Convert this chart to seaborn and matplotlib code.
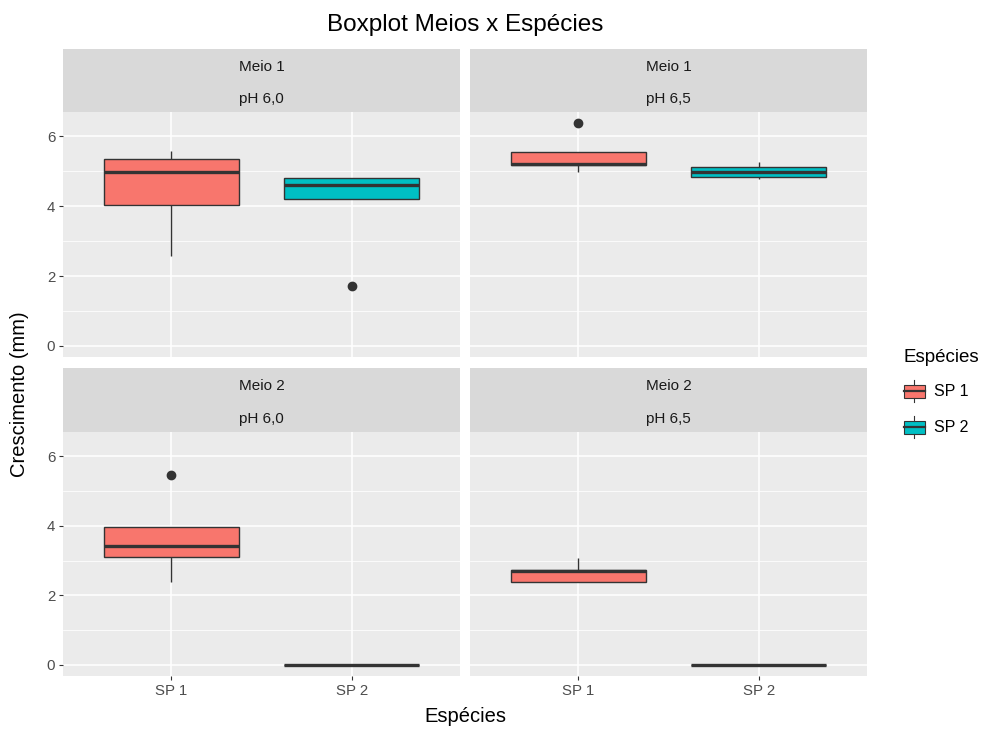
import numpy as np
import pandas as pd
import matplotlib
matplotlib.use("Agg")
import matplotlib.pyplot as plt
import seaborn as sns
from matplotlib.legend_handler import HandlerBase
from matplotlib.patches import Rectangle, Patch
from matplotlib.lines import Line2D
from matplotlib.ticker import FixedLocator

species = ["SP 1", "SP 2"]
meios = ["Meio 1", "Meio 1", "Meio 2", "Meio 2"]
phs = ["pH 6,0", "pH 6,5", "pH 6,0", "pH 6,5"]

m1_ph60_sp1 = [2.57, 4.03, 4.97, 5.34, 5.57]
m1_ph60_sp2 = [1.71, 4.20, 4.60, 4.80, 4.80]
m1_ph65_sp1 = [4.97, 5.17, 5.20, 5.54, 6.38]
m1_ph65_sp2 = [4.77, 4.83, 4.97, 5.11, 5.26]
m2_ph60_sp1 = [2.39, 3.10, 3.42, 3.97, 5.46]
m2_ph60_sp2 = [0.0, 0.0, 0.0, 0.0, 0.0]
m2_ph65_sp1 = [2.39, 2.39, 2.70, 2.73, 3.07]
m2_ph65_sp2 = [0.0, 0.0, 0.0, 0.0, 0.0]

groups = [
    (m1_ph60_sp1, m1_ph60_sp2),
    (m1_ph65_sp1, m1_ph65_sp2),
    (m2_ph60_sp1, m2_ph60_sp2),
    (m2_ph65_sp1, m2_ph65_sp2),
]

y_ticks = [0, 2, 4, 6]
y_minor = [1, 3, 5]
palette = {"SP 1": "#F8766D", "SP 2": "#00BFC4"}

rows = []
for i, (a, b) in enumerate(groups):
    for sp, vals in zip(species, (a, b)):
        for v in vals:
            rows.append({"Meio": meios[i], "pH": phs[i], "Espécies": sp, "Crescimento": v})
df = pd.DataFrame(rows)

# ---------------- style ----------------
plt.rcParams["font.family"] = ["Liberation Sans", "DejaVu Sans"]

W, H = 985, 729
fig = plt.figure(figsize=(W / 100, H / 100), dpi=100)
fig.patch.set_facecolor("white")

def fx(px):
    return px / W

def fy(py):
    return 1 - py / H

col_x = [(63, 460), (470, 867)]
row_y = [((49, 112), (112, 357)), ((368, 432), (432, 676))]

ymax = df["Crescimento"].max()
ymin = df["Crescimento"].min()
pad = (ymax - ymin) * 0.05
ylim = (ymin - pad, ymax + pad)

TICK_FS = 10.8
STRIP_FS = 11

for i in range(4):
    r, c = divmod(i, 2)
    (sx0, sx1) = col_x[c]
    (st0, st1), (dt0, dt1) = row_y[r]
    ax = fig.add_axes([fx(sx0), fy(dt1), fx(sx1 - sx0), (dt1 - dt0) / H])
    sub = df[(df["Meio"] == meios[i]) & (df["pH"] == phs[i])]
    sns.boxplot(
        data=sub, x="Espécies", y="Crescimento", hue="Espécies",
        order=species, hue_order=species, palette=palette, saturation=1,
        width=0.75, linecolor="#333333", linewidth=1.0, showcaps=False,
        whis=1.5, legend=False, ax=ax,
        medianprops=dict(linewidth=2.4, color="#333333"),
        flierprops=dict(marker="o", markerfacecolor="#333333",
                        markeredgecolor="#333333", markersize=6),
    )
    ax.set_facecolor("#EBEBEB")
    for s in ax.spines.values():
        s.set_visible(False)
    ax.set_xlim(-0.6, 1.6)
    ax.set_ylim(*ylim)
    ax.set_yticks(y_ticks)
    ax.yaxis.set_minor_locator(FixedLocator(y_minor))
    ax.set_axisbelow(True)
    ax.grid(True, which="major", color="white", linewidth=1.1)
    ax.grid(True, which="minor", axis="y", color="white", linewidth=0.55)
    ax.tick_params(which="minor", length=0)
    ax.tick_params(which="major", length=3, width=0.8, color="#333333",
                   labelcolor="#4D4D4D", labelsize=TICK_FS, pad=2.5)
    ax.set_xlabel("")
    ax.set_ylabel("")
    if c == 1:
        ax.tick_params(axis="y", which="major", length=0, labelleft=False)
    if r == 0:
        ax.tick_params(axis="x", which="major", length=0, labelbottom=False)

    # strip
    sax = fig.add_axes([fx(sx0), fy(st1), fx(sx1 - sx0), (st1 - st0) / H])
    sax.set_facecolor("#D9D9D9")
    sax.set_xticks([])
    sax.set_yticks([])
    for s in sax.spines.values():
        s.set_visible(False)
    sax.text(0.5, 0.72, meios[i], ha="center", va="center", fontsize=STRIP_FS,
             color="#1A1A1A", transform=sax.transAxes)
    sax.text(0.5, 0.21, phs[i], ha="center", va="center", fontsize=STRIP_FS,
             color="#1A1A1A", transform=sax.transAxes)

# titles
fig.text(fx(465), fy(25), "Boxplot Meios x Espécies", ha="center", va="center",
         fontsize=17.5, color="black")
fig.text(fx(465), fy(716), "Espécies", ha="center", va="center", fontsize=14.5,
         color="black")
fig.text(fx(20), fy(394), "Crescimento (mm)", ha="center", va="center",
         rotation=90, fontsize=14.5, color="black")

# legend with box-glyph keys
class BoxHandler(HandlerBase):
    def create_artists(self, legend, orig_handle, xdescent, ydescent, width,
                       height, fontsize, trans):
        fc = orig_handle.get_facecolor()
        x0, y0 = -xdescent, -ydescent
        ec = "#333333"
        rect = Rectangle((x0, y0 + 0.2 * height), width, 0.6 * height,
                         facecolor=fc, edgecolor=ec, linewidth=0.8,
                         transform=trans)
        med = Line2D([x0, x0 + width], [y0 + 0.5 * height] * 2, color=ec,
                     linewidth=1.6, transform=trans)
        w1 = Line2D([x0 + width / 2] * 2, [y0 + 0.0 * height, y0 + 0.2 * height],
                    color=ec, linewidth=0.8, transform=trans)
        w2 = Line2D([x0 + width / 2] * 2, [y0 + 0.8 * height, y0 + 1.0 * height],
                    color=ec, linewidth=0.8, transform=trans)
        return [rect, med, w1, w2]

handles = [Patch(facecolor=palette[s]) for s in species]
leg = fig.legend(handles, species, loc="upper left",
                 bbox_to_anchor=(fx(896), fy(341)), frameon=False,
                 title="Espécies", title_fontsize=13.5, fontsize=11.5,
                 handlelength=1.3, handleheight=1.7, handletextpad=0.6,
                 labelspacing=0.9, borderpad=0, alignment="left",
                 handler_map={Patch: BoxHandler()})

fig.savefig("out.png", dpi=100)
